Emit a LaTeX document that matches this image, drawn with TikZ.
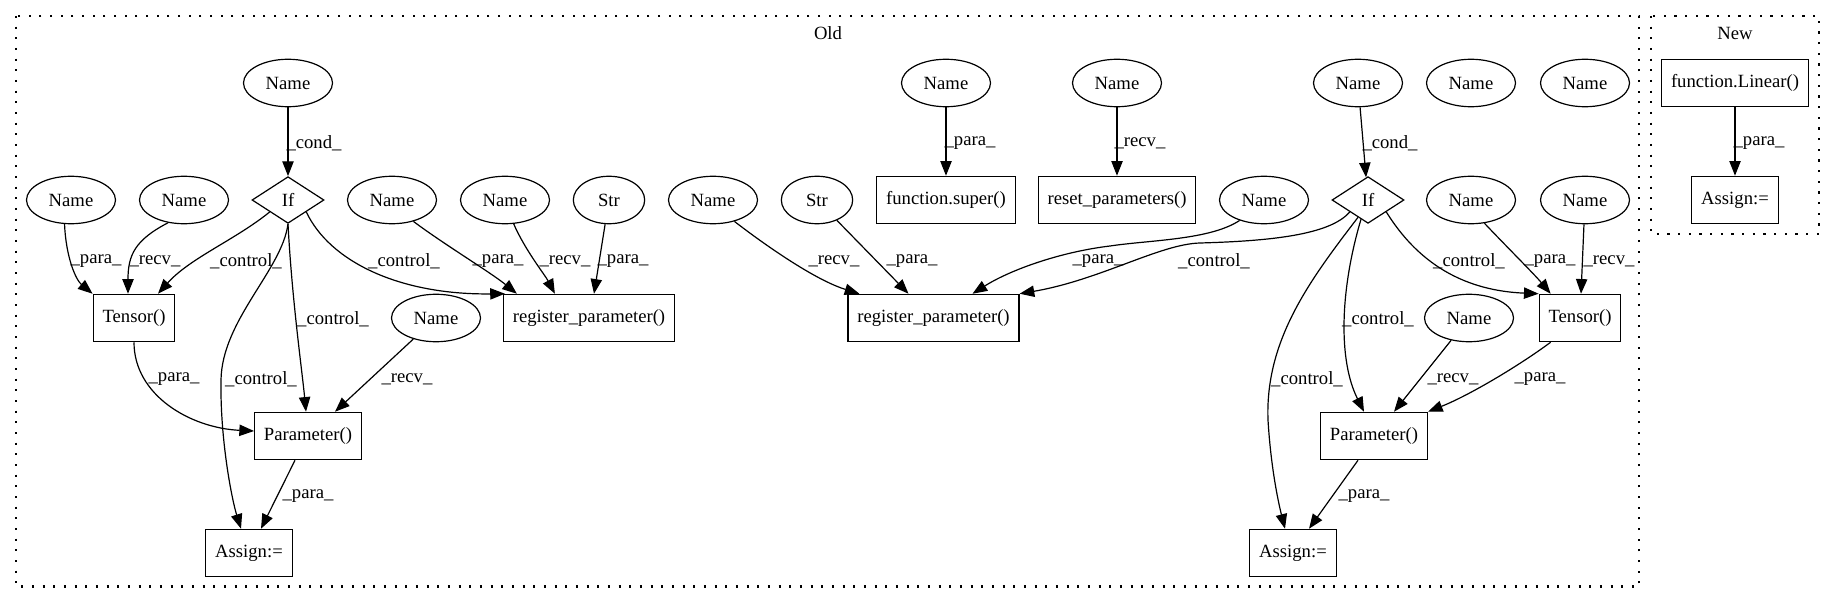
\documentclass[tikz,border=0pt]{standalone}
\usepackage{fontspec}
\setmainfont{Liberation Serif}
\usetikzlibrary{arrows.meta, calc, shapes.geometric}
\tikzset{
  namenode/.style={draw, ellipse, line width=0.9pt, minimum width=66.75pt, minimum height=35.6pt, inner sep=0pt},
  strnode/.style={namenode, minimum width=53.5pt},
  callbox/.style={draw, rectangle, line width=0.9pt, minimum height=35.5pt, inner xsep=7pt, inner ysep=0pt},
  ifnode/.style={draw, diamond, line width=0.9pt, minimum width=54pt, minimum height=35pt, inner sep=0pt},
  flow/.style={-{Triangle[length=11pt,width=8.5pt]}, line width=0.9pt},
  lbl/.style={inner sep=0pt, anchor=center},
  cluster/.style={line width=1.6pt, dash pattern=on 1.6pt off 6.4pt}
}

\begin{document}
\begin{tikzpicture}[x=0.75pt,y=-0.75pt,font=\fontsize{14}{17}\selectfont]
    \useasboundingbox (0,0) rectangle (1835,606);
    \draw[cluster] (15.7,16) rectangle (1639.4,586.5);
    \node (oldlbl) at (828,33) {Old};
    \draw[cluster] (1650.8,16) rectangle (1819,234);
    \node (newlbl) at (1735,33) {New};

    \node[namenode] (condA) at (288,83) {Name};
    \node[ifnode] (ifA) at (288,200) {If};
    \node[namenode] (tnameA) at (71,200) {Name};
    \node[namenode] (trecvA) at (184,200) {Name};
    \node[namenode] (rnameA) at (392,200) {Name};
    \node[namenode] (rrecvA) at (505,200) {Name};
    \node[strnode] (rstrA) at (609,200) {Str};
    \node[callbox] (tensorA) at (134,318) {Tensor()};
    \node[callbox] (registerA) at (589,318) {register\_parameter()};
    \node[namenode] (precvA) at (436,318) {Name};
    \node[callbox] (paramA) at (308,436) {Parameter()};
    \node[callbox] (assignA) at (249,553) {Assign:=};

    \draw[flow] (condA) -- (ifA) node[lbl] at (314,143) {\_cond\_};
    \draw[flow] (tnameA.255) .. controls (66,258) and (76,280) .. (tensorA.north west) node[lbl] at (96,261) {\_para\_};
    \draw[flow] (trecvA.235) .. controls (135,240) and (128,255) .. ($(tensorA.north)+(-6,0)$) node[lbl] at (155,261) {\_recv\_};
    \draw[flow] (ifA.south west) .. controls (235,240) and (190,258) .. ($(tensorA.north)+(24,0)$) node[lbl] at (246,261) {\_control\_};
    \draw[flow] (ifA.south east) .. controls (330,262) and (400,295) .. ($(registerA.north west)+(2,0)$) node[lbl] at (404,261) {\_control\_};
    \draw[flow] (rnameA.315) .. controls (445,245) and (490,272) .. ($(registerA.north west)+(14,0)$) node[lbl] at (498,261) {\_para\_};
    \draw[flow] (rrecvA.290) .. controls (525,250) and (545,275) .. ($(registerA.north west)+(52,0)$) node[lbl] at (565,261) {\_recv\_};
    \draw[flow] (rstrA) -- ($(registerA.north)+(5,0)$) node[lbl] at (623,261) {\_para\_};
    \draw[flow] (ifA.south) .. controls (292,300) and (302,370) .. ($(paramA.north)+(-2,0)$) node[lbl] at (333,319) {\_control\_};
    \draw[flow] (ifA.south) .. controls (282,270) and (222,320) .. (221,380) .. controls (220,440) and (232,500) .. ($(assignA.north)+(-8,0)$) node[lbl] at (261,379) {\_control\_};
    \draw[flow] (tensorA.south) .. controls (134,395) and (190,428) .. ($(paramA.west)+(0,-5)$) node[lbl] at (174,379) {\_para\_};
    \draw[flow] (precvA) -- ($(paramA.north)+(27,0)$) node[lbl] at (407,379) {\_recv\_};
    \draw[flow] ($(paramA.south)+(-13,0)$) -- ($(assignA.north)+(12,0)$) node[lbl] at (308,496) {\_para\_};

    \node[namenode] (rrecvB) at (713,200) {Name};
    \node[strnode] (rstrB) at (817,200) {Str};
    \node[namenode] (supername) at (946,83) {Name};
    \node[callbox] (superB) at (946,200) {function.super()};
    \node[namenode] (resetname) at (1117,83) {Name};
    \node[callbox] (resetB) at (1117,200) {reset\_parameters()};
    \node[namenode] (rnameB) at (1264,200) {Name};
    \node[callbox] (registerB) at (933.5,318) {register\_parameter()};

    \draw[flow] (rrecvB.315) .. controls (765,245) and (815,280) .. ($(registerB.north west)+(12,0)$) node[lbl] at (834,261) {\_recv\_};
    \draw[flow] (rstrB) -- ($(registerB.north)+(-25,0)$) node[lbl] at (912,261) {\_para\_};
    \draw[flow] (supername) -- (superB) node[lbl] at (970,143) {\_para\_};
    \draw[flow] (resetname) -- (resetB) node[lbl] at (1140,143) {\_recv\_};
    \draw[flow] (rnameB.220) .. controls (1210,240) and (1150,240) .. (1110,246) .. controls (1060,252) and (1010,270) .. ($(registerB.north)+(39,0)$) node[lbl] at (1098,261) {\_para\_};

    \node[namenode] (condB) at (1358,83) {Name};
    \node[namenode] (spareA) at (1471,83) {Name};
    \node[namenode] (spareB) at (1585,83) {Name};
    \node[ifnode] (ifB) at (1368,200) {If};
    \node[namenode] (tnameB) at (1471,200) {Name};
    \node[namenode] (trecvB) at (1585,200) {Name};
    \node[callbox] (tensorB) at (1580,318) {Tensor()};
    \node[namenode] (precvB) at (1469,318) {Name};
    \node[callbox] (paramB) at (1374,436) {Parameter()};
    \node[callbox] (assignB) at (1293,553) {Assign:=};

    \draw[flow] (ifB.south west) .. controls (1330,235) and (1270,241) .. (1200,243) .. controls (1160,244) and (1100,280) .. (registerB.north east) node[lbl] at (1214,261) {\_control\_};
    \draw[flow] (condB) -- (ifB) node[lbl] at (1390,143) {\_cond\_};
    \draw[flow] (ifB.south east) .. controls (1410,250) and (1450,290) .. (tensorB.north west) node[lbl] at (1469,261) {\_control\_};
    \draw[flow] (tnameB.300) .. controls (1505,245) and (1535,275) .. ($(tensorB.north west)+(12,0)$) node[lbl] at (1550,261) {\_para\_};
    \draw[flow] (trecvB) -- (tensorB) node[lbl] at (1609,261) {\_recv\_};
    \draw[flow] (ifB.250) .. controls (1340,290) and (1338,360) .. ($(paramB.north)+(-10,0)$) node[lbl] at (1378,319) {\_control\_};
    \draw[flow] (ifB.240) .. controls (1310,280) and (1265,340) .. (1268,420) .. controls (1271,470) and (1279,505) .. ($(assignB.north)+(-8,0)$) node[lbl] at (1307,379) {\_control\_};
    \draw[flow] (precvB) -- ($(paramB.north)+(20,0)$) node[lbl] at (1453,379) {\_recv\_};
    \draw[flow] ($(tensorB.south west)+(12,0)$) .. controls (1520,365) and (1470,395) .. (paramB.north east) node[lbl] at (1540,379) {\_para\_};
    \draw[flow] ($(paramB.south)+(-16,0)$) -- ($(assignB.north)+(16,0)$) node[lbl] at (1364,496) {\_para\_};

    \node[callbox] (linearC) at (1735,83) {function.Linear()};
    \node[callbox] (assignC) at (1735,200) {Assign:=};
    \draw[flow] (linearC) -- (assignC) node[lbl] at (1759,143) {\_para\_};
\end{tikzpicture}
\end{document}
